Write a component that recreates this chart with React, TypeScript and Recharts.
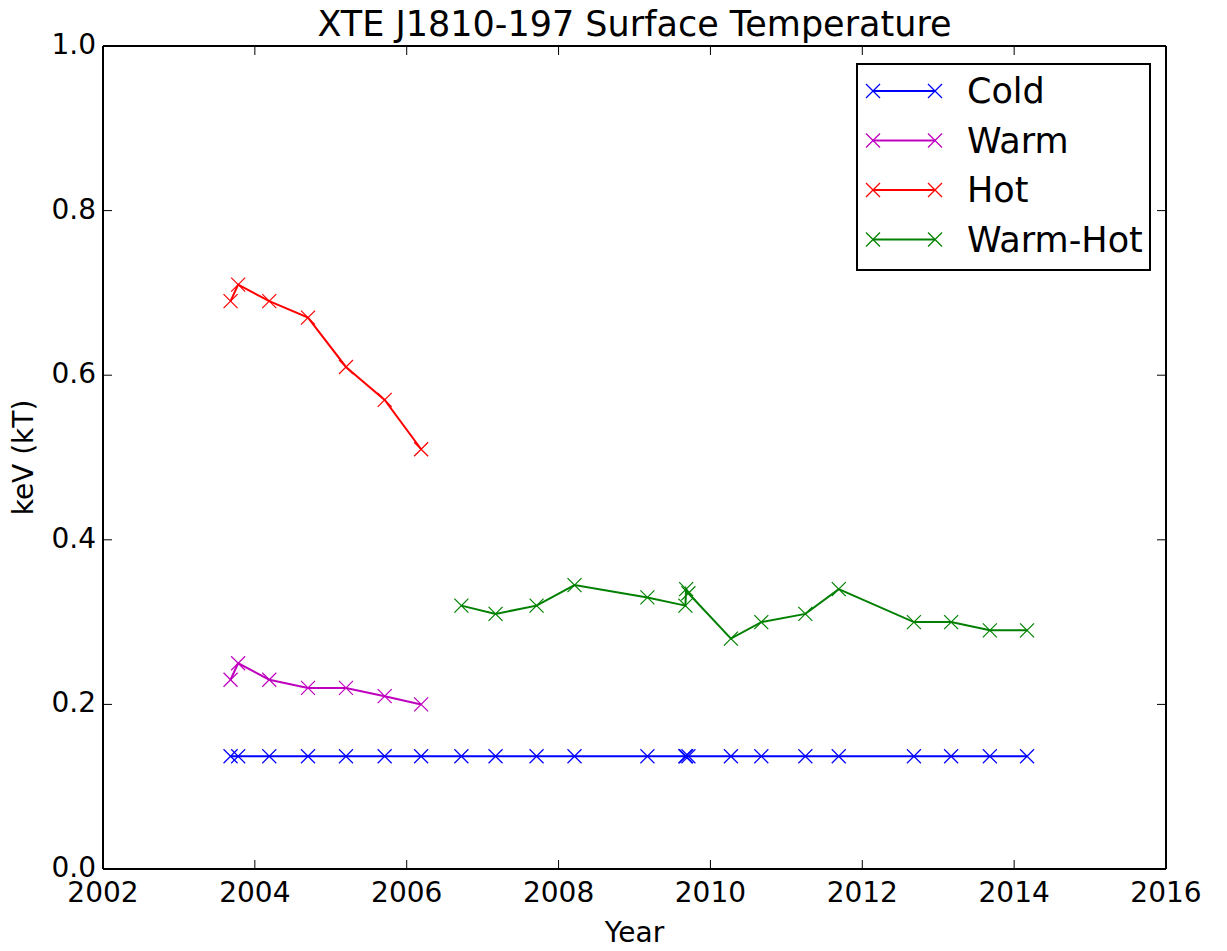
import React from 'react';
import { LineChart, Line, XAxis, YAxis, Label } from 'recharts';

const earlyYears = [2003.68, 2003.78, 2004.19, 2004.7, 2005.2, 2005.71, 2006.19];
const hotKeV = [0.69, 0.71, 0.69, 0.67, 0.61, 0.57, 0.51];
const warmKeV = [0.23, 0.25, 0.23, 0.22, 0.22, 0.21, 0.2];

const laterYears = [
  2006.72, 2007.17, 2007.71, 2008.21, 2009.17, 2009.67, 2009.68, 2009.71,
  2010.27, 2010.67, 2011.25, 2011.69, 2012.68, 2013.17, 2013.68, 2014.17
];
const warmHotKeV = [
  0.32, 0.31, 0.32, 0.345, 0.33, 0.32, 0.34, 0.335,
  0.28, 0.3, 0.31, 0.34, 0.3, 0.3, 0.29, 0.29
];

const coldYears = [...earlyYears, ...laterYears];
const coldKeV = [
  0.137, 0.137, 0.137, 0.137, 0.137, 0.137, 0.137, 0.137,
  0.137, 0.137, 0.137, 0.137, 0.137, 0.137, 0.137, 0.137,
  0.137, 0.137, 0.137, 0.137, 0.137, 0.137, 0.137
];

const xTicks = [2002, 2004, 2006, 2008, 2010, 2012, 2014, 2016];
const yTicks = [0, 0.2, 0.4, 0.6, 0.8, 1.0];

const toPoints = (years: number[], values: number[]) =>
  years.map((t, i) => ({ t, v: values[i] }));

const series = [
  { name: 'Cold', color: '#0000ff', data: toPoints(coldYears, coldKeV) },
  { name: 'Warm', color: '#bf00bf', data: toPoints(earlyYears, warmKeV) },
  { name: 'Hot', color: '#ff0000', data: toPoints(earlyYears, hotKeV) },
  { name: 'Warm-Hot', color: '#008000', data: toPoints(laterYears, warmHotKeV) }
];

const FONT = 'DejaVu Sans, sans-serif';
const TICK = 9;

const XMark = ({ cx, cy, color }: any) => {
  const s = 7;
  return (
    <g stroke={color} strokeWidth={1.2}>
      <line x1={cx - s} y1={cy - s} x2={cx + s} y2={cy + s} />
      <line x1={cx - s} y1={cy + s} x2={cx + s} y2={cy - s} />
    </g>
  );
};

const BottomTick = ({ x, y, payload }: any) => (
  <g>
    <line x1={x} y1={y} x2={x} y2={y - TICK} stroke="#000" strokeWidth={1} />
    <text x={x} y={y + 33} textAnchor="middle" fontSize={28} fontFamily={FONT} fill="#000">
      {payload.value}
    </text>
  </g>
);

const TopTick = ({ x, y }: any) => (
  <line x1={x} y1={y} x2={x} y2={y + TICK} stroke="#000" strokeWidth={1} />
);

const LeftTick = ({ x, y, payload }: any) => (
  <g>
    <line x1={x} y1={y} x2={x + TICK} y2={y} stroke="#000" strokeWidth={1} />
    <text x={x - 7} y={y + 8} textAnchor="end" fontSize={28} fontFamily={FONT} fill="#000">
      {Number(payload.value).toFixed(1)}
    </text>
  </g>
);

const RightTick = ({ x, y }: any) => (
  <line x1={x} y1={y} x2={x - TICK} y2={y} stroke="#000" strokeWidth={1} />
);

// legend box drawn on top of the chart, like matplotlib's upper-right legend
const LegendBox = () => (
  <div style={{ position: 'absolute', left: 856, top: 63, width: 295, height: 208 }}>
    <svg width={295} height={208}>
      <rect x={1} y={1} width={293} height={206} fill="#fff" stroke="#000" strokeWidth={2} />
      {series.map((s, i) => {
        const cy = 28 + i * 49.5;
        return (
          <g key={s.name}>
            <line x1={17} y1={cy} x2={79} y2={cy} stroke={s.color} strokeWidth={2} />
            <XMark cx={17} cy={cy} color={s.color} />
            <XMark cx={79} cy={cy} color={s.color} />
            <text x={111} y={cy + 12} fontSize={35} fontFamily={FONT} fill="#000">
              {s.name}
            </text>
          </g>
        );
      })}
    </svg>
  </div>
);

const axisLine = { stroke: '#000', strokeWidth: 2 };

export default function App() {
  return (
    <div style={{ position: 'absolute', left: 0, top: 0, width: 1227, height: 951, background: '#fff' }}>
      <LineChart
        width={1227}
        height={951}
        margin={{ top: 36, right: 51, bottom: 32, left: 43 }}
      >
        <XAxis
          xAxisId="bottom"
          dataKey="t"
          type="number"
          domain={[2002, 2016]}
          ticks={xTicks}
          interval={0}
          allowDataOverflow
          height={50}
          tickSize={0}
          tickMargin={0}
          tickLine={false}
          axisLine={axisLine}
          tick={<BottomTick />}
        >
          <Label
            content={({ viewBox }: any) => (
              <text
                x={viewBox.x + viewBox.width / 2}
                y={viewBox.y + 73}
                textAnchor="middle"
                fontSize={28}
                fontFamily={FONT}
                fill="#000"
              >
                Year
              </text>
            )}
          />
        </XAxis>
        <XAxis
          xAxisId="top"
          orientation="top"
          dataKey="t"
          type="number"
          domain={[2002, 2016]}
          ticks={xTicks}
          interval={0}
          allowDataOverflow
          height={10}
          tickSize={0}
          tickMargin={0}
          tickLine={false}
          axisLine={axisLine}
          tick={<TopTick />}
        >
          <Label
            content={({ viewBox }: any) => (
              <text
                x={viewBox.x + viewBox.width / 2}
                y={36}
                textAnchor="middle"
                fontSize={35}
                fontFamily={FONT}
                fill="#000"
              >
                XTE J1810-197 Surface Temperature
              </text>
            )}
          />
        </XAxis>
        <YAxis
          yAxisId="left"
          type="number"
          domain={[0, 1]}
          ticks={yTicks}
          interval={0}
          allowDataOverflow
          width={60}
          tickSize={0}
          tickMargin={0}
          tickLine={false}
          axisLine={axisLine}
          tick={<LeftTick />}
        >
          <Label
            content={({ viewBox }: any) => {
              const cy = viewBox.y + viewBox.height / 2;
              return (
                <text
                  x={33}
                  y={cy}
                  transform={`rotate(-90, 33, ${cy})`}
                  textAnchor="middle"
                  fontSize={28}
                  fontFamily={FONT}
                  fill="#000"
                >
                  keV (kT)
                </text>
              );
            }}
          />
        </YAxis>
        <YAxis
          yAxisId="right"
          orientation="right"
          type="number"
          domain={[0, 1]}
          ticks={yTicks}
          interval={0}
          allowDataOverflow
          width={10}
          tickSize={0}
          tickMargin={0}
          tickLine={false}
          axisLine={axisLine}
          tick={<RightTick />}
        />
        {series.map(s => (
          <Line
            key={s.name}
            name={s.name}
            data={s.data}
            dataKey="v"
            xAxisId="bottom"
            yAxisId="left"
            type="linear"
            stroke={s.color}
            strokeWidth={2}
            isAnimationActive={false}
            dot={(p: any) => <XMark key={`${s.name}-${p.index}`} cx={p.cx} cy={p.cy} color={s.color} />}
            activeDot={false}
          />
        ))}
      </LineChart>
      <LegendBox />
    </div>
  );
}
